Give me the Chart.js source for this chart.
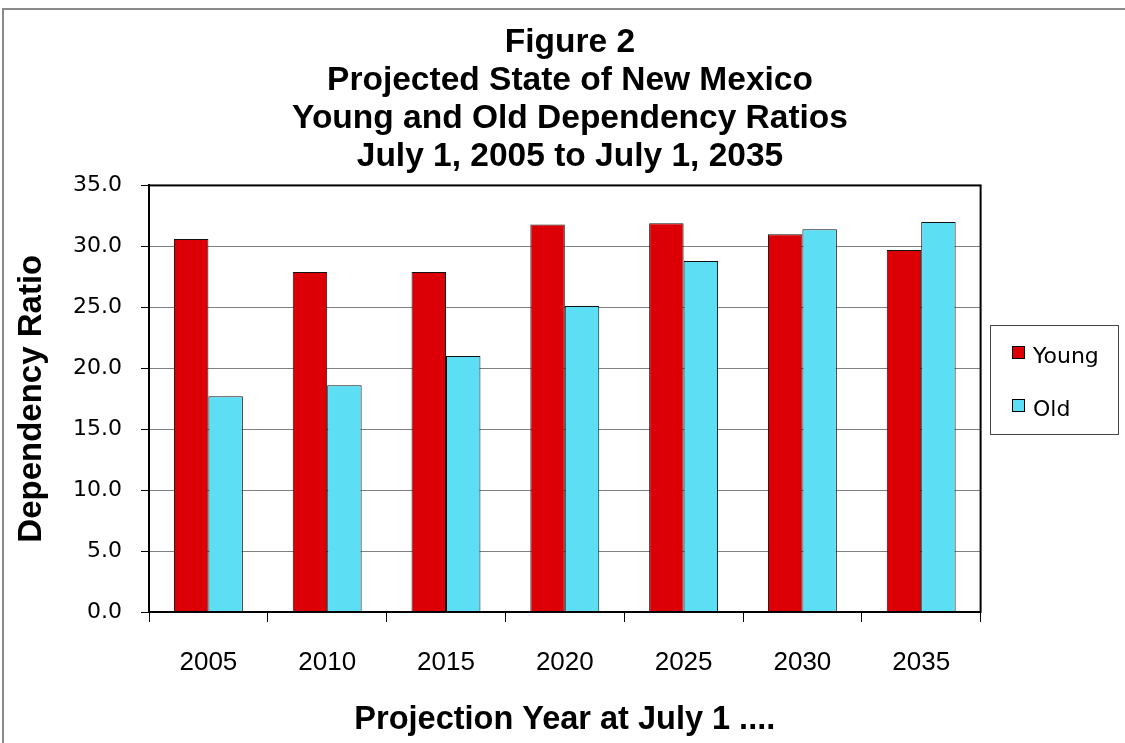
<!DOCTYPE html>
<html>
<head>
<meta charset="utf-8">
<title>Figure 2</title>
<script src="https://cdn.jsdelivr.net/npm/chart.js@4.4.1/dist/chart.umd.min.js"></script>
<style>
  html, body { margin: 0; padding: 0; background: #fff; }
  canvas { display: block; }
</style>
</head>
<body>
<canvas id="myChart" width="1125" height="743"></canvas>
<script>
const years = ['2005', '2010', '2015', '2020', '2025', '2030', '2035']
const youngRatio = [30.6, 27.9, 27.9, 31.8, 31.9, 31.0, 29.7]
const oldRatio = [17.7, 18.6, 21.0, 25.1, 28.8, 31.4, 32.0]
const yMin = 0
const yMax = 35
const yStep = 5

const titleLines = [
  'Figure 2',
  'Projected State of New Mexico',
  'Young and Old Dependency Ratios',
  'July 1, 2005 to July 1, 2035'
]

const RED = '#dc0006'
const CYAN = '#5cdef5'

// white page with the grey outer frame of the original sheet
const pageFrame = {
  id: 'pageFrame',
  beforeDraw: chart => {
    const ctx = chart.ctx
    ctx.save()
    ctx.fillStyle = '#fff'
    ctx.fillRect(0, 0, chart.width, chart.height)
    ctx.strokeStyle = '#8a8a8a'
    ctx.lineWidth = 2
    ctx.strokeRect(3, 9, chart.width + 20, chart.height + 20)
    ctx.restore()
  }
}

// black box round the plot area
const plotFrame = {
  id: 'plotFrame',
  afterDatasetsDraw: chart => {
    const ctx = chart.ctx
    const { top, left, right, bottom } = chart.chartArea
    ctx.save()
    ctx.strokeStyle = '#000'
    ctx.lineWidth = 2
    ctx.strokeRect(left, top, right - left, bottom - top)
    ctx.restore()
  }
}

// boxed legend on the right, like the spreadsheet one
const boxLegend = {
  id: 'boxLegend',
  afterDraw: chart => {
    const ctx = chart.ctx
    const x = 990, y = 325, w = 128, h = 109
    ctx.save()
    ctx.fillStyle = '#fff'
    ctx.fillRect(x, y, w, h)
    ctx.strokeStyle = '#444'
    ctx.lineWidth = 1
    ctx.strokeRect(x + 0.5, y + 0.5, w, h)
    ctx.font = '22px "DejaVu Sans"'
    ctx.textBaseline = 'middle'
    ctx.textAlign = 'left'
    chart.data.datasets.forEach((ds, i) => {
      const rowY = 357 + i * 53
      ctx.fillStyle = ds.backgroundColor
      ctx.fillRect(1012.5, rowY - 10.5, 12, 12)
      ctx.strokeStyle = '#000'
      ctx.strokeRect(1012.5, rowY - 10.5, 12, 12)
      ctx.fillStyle = '#000'
      ctx.fillText(ds.label, 1033, rowY)
    })
    ctx.restore()
  }
}

const data = {
  labels: years,
  datasets: [
    {
      label: 'Young',
      data: youngRatio,
      backgroundColor: RED,
      borderColor: '#111',
      borderWidth: 1
    },
    {
      label: 'Old',
      data: oldRatio,
      backgroundColor: CYAN,
      borderColor: '#111',
      borderWidth: 1
    }
  ]
}

const config = {
  type: 'bar',
  data: data,
  plugins: [pageFrame, plotFrame, boxLegend],
  options: {
    responsive: false,
    animation: false,
    layout: { padding: { left: 15, right: 0, top: 0, bottom: 0 } },
    datasets: {
      bar: { categoryPercentage: 0.58, barPercentage: 1.0 }
    },
    plugins: {
      legend: { display: false },
      tooltip: { enabled: false },
      title: {
        display: true,
        text: titleLines,
        color: '#000',
        font: { family: '"Liberation Sans", Arial, sans-serif', size: 33.5, weight: 'bold', lineHeight: 1.13 },
        padding: { top: 24, bottom: 10 }
      }
    },
    scales: {
      x: {
        grid: {
          display: true,
          drawOnChartArea: false,
          offset: true,
          tickLength: 10,
          tickColor: '#000',
          tickWidth: 1
        },
        border: { display: true, color: '#000', width: 2 },
        ticks: {
          color: '#000',
          padding: 25,
          font: { family: '"Liberation Sans", Arial, sans-serif', size: 26 }
        },
        title: {
          display: true,
          text: 'Projection Year at July 1 ....',
          color: '#000',
          font: { family: '"Liberation Sans", Arial, sans-serif', size: 32.5, weight: 'bold', lineHeight: 1.2 },
          padding: { top: 0, bottom: 3 }
        },
        afterFit: s => { s.height = 131 }
      },
      y: {
        min: yMin,
        max: yMax,
        ticks: {
          stepSize: yStep,
          color: '#000',
          padding: 19,
          font: { family: '"DejaVu Sans", sans-serif', size: 22 },
          callback: v => v.toFixed(1)
        },
        grid: {
          color: '#808080',
          lineWidth: 1,
          tickLength: 8,
          tickColor: '#000'
        },
        border: { display: true, color: '#000', width: 2 },
        title: {
          display: true,
          text: 'Dependency Ratio',
          color: '#000',
          font: { family: '"Liberation Sans", Arial, sans-serif', size: 33, weight: 'bold', lineHeight: 1 },
          padding: { top: 0, bottom: 0 }
        },
        afterFit: s => { s.width = 134 }
      },
      // empty right-hand axis that only reserves room for the legend box
      yRoom: {
        position: 'right',
        min: yMin,
        max: yMax,
        grid: { display: false },
        border: { display: false },
        ticks: { display: false },
        afterFit: s => { s.width = 144.4 }
      }
    }
  }
}

const ctx = document.getElementById('myChart')
const chart = new Chart(ctx, config)
</script>
</body>
</html>
